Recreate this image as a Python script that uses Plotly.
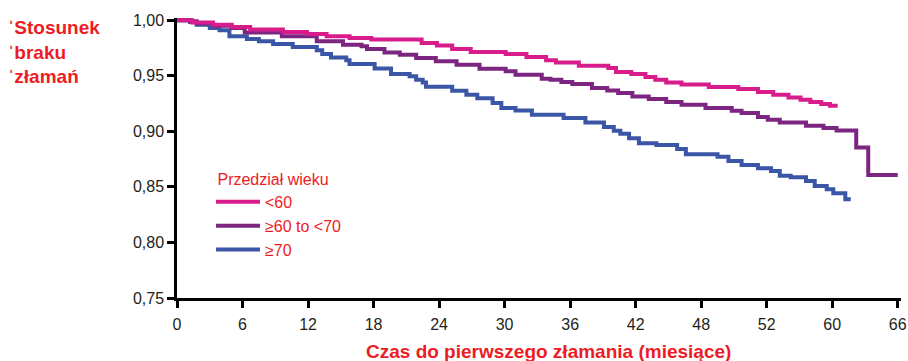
import plotly.graph_objects as go

# ---- data ----
months_lt60 = [0, 1.4, 3.3, 5.0, 6.7, 9.7, 11.9, 13.7, 15.8, 17.8, 22.4, 23.8, 25.2, 26.9, 30.1, 32.0,
               33.8, 34.7, 36.8, 39.5, 40.2, 41.6, 42.9, 43.8, 44.8, 46.2, 48.7, 51.4, 53.2, 54.6,
               56.0, 57.1, 58.0, 59.0, 59.8, 60.5]
surv_lt60 = [1.000, 0.998, 0.996, 0.994, 0.9916, 0.9895, 0.9877, 0.9856, 0.984, 0.9826, 0.9796, 0.9772,
             0.9742, 0.9715, 0.9697, 0.967, 0.9639, 0.962, 0.959, 0.957, 0.9534, 0.9516, 0.949, 0.9465,
             0.944, 0.9422, 0.940, 0.938, 0.9354, 0.933, 0.9305, 0.9284, 0.9263, 0.9245, 0.923, 0.923]

months_60_70 = [0, 1.2, 1.8, 3.3, 5.0, 6.2, 9.6, 12.8, 15.2, 16.9, 17.4, 19.0, 20.4, 21.9, 23.7, 25.6,
                27.7, 30.1, 31.0, 33.4, 34.2, 35.2, 36.2, 38.0, 39.4, 40.4, 41.7, 43.2, 44.8, 46.2,
                48.4, 50.8, 51.7, 53.2, 54.1, 55.2, 57.6, 59.2, 60.4, 62.2, 63.3, 66.0]
surv_60_70 = [1.000, 0.999, 0.997, 0.995, 0.993, 0.989, 0.9856, 0.981, 0.978, 0.9765, 0.9742, 0.971,
              0.969, 0.966, 0.963, 0.960, 0.9564, 0.954, 0.951, 0.9474, 0.9465, 0.9444, 0.9426, 0.939,
              0.9368, 0.9345, 0.9314, 0.929, 0.9263, 0.9239, 0.921, 0.9185, 0.9164, 0.9128, 0.9104,
              0.908, 0.905, 0.903, 0.9007, 0.8854, 0.8607, 0.8607]

months_ge70 = [0, 1.2, 1.8, 3.0, 3.9, 4.8, 6.4, 7.5, 8.8, 10.6, 12.8, 13.3, 14.1, 15.5, 15.8, 18.1,
               19.6, 21.3, 21.9, 22.5, 22.8, 25.2, 26.5, 27.5, 28.9, 29.7, 31.0, 32.5, 35.4, 37.4,
               39.1, 40.0, 40.6, 41.4, 42.3, 43.9, 45.8, 46.6, 49.5, 50.5, 51.7, 53.2, 54.4, 55.2,
               56.2, 57.6, 58.4, 59.5, 60.1, 61.2, 61.7]
surv_ge70 = [1.000, 0.9985, 0.996, 0.993, 0.991, 0.9856, 0.983, 0.981, 0.9785, 0.976, 0.973, 0.9695,
             0.9665, 0.964, 0.9606, 0.9565, 0.9515, 0.9495, 0.9465, 0.944, 0.9402, 0.9365, 0.933,
             0.9297, 0.9255, 0.921, 0.9187, 0.9149, 0.9119, 0.908, 0.9038, 0.9005, 0.8978, 0.8938,
             0.8893, 0.8878, 0.884, 0.8794, 0.8772, 0.8734, 0.8698, 0.8668, 0.8643, 0.8601, 0.8587,
             0.8553, 0.8508, 0.8478, 0.8442, 0.8388, 0.8388]

series_names = ["<60", "\u226560 to <70", "\u226570"]
x_tickvals = [0, 6, 12, 18, 24, 30, 36, 42, 48, 54, 60, 66]
x_ticktext = ["0", "6", "12", "18", "24", "30", "36", "42", "48", "52", "60", "66"]
y_tickvals = [0.75, 0.80, 0.85, 0.90, 0.95, 1.00]
y_ticktext = ["0,75", "0,80", "0,85", "0,90", "0,95", "1,00"]

# ---- style ----
PINK = "#d81c8c"
PURPLE = "#7c2682"
BLUE = "#3b56a6"
RED = "#ed1c24"
TXT = "#231f20"
FONT = "Liberation Sans, Arial, sans-serif"
NARROW = "Liberation Sans Narrow, Liberation Sans, Arial, sans-serif"

fig = go.Figure()
for x, y, name, col in [(months_ge70, surv_ge70, series_names[2], BLUE),
                        (months_60_70, surv_60_70, series_names[1], PURPLE),
                        (months_lt60, surv_lt60, series_names[0], PINK)]:
    fig.add_trace(go.Scatter(x=x, y=y, mode="lines", name=name,
                             line=dict(color=col, width=4, shape="hv")))

fig.update_layout(
    width=908, height=361,
    margin=dict(l=177, r=7, t=18, b=63),
    plot_bgcolor="white", paper_bgcolor="white",
    showlegend=True,
    legend=dict(x=0.047, y=0.478, xanchor="left", yanchor="top",
                bgcolor="rgba(0,0,0,0)", traceorder="reversed", itemwidth=44,
                font=dict(family=FONT, size=16, color=RED),
                title=dict(text=" Przedzia\u0142 wieku", font=dict(family=FONT, size=16, color=RED))),
    xaxis=dict(range=[0, 66.3], tickvals=x_tickvals, ticktext=x_ticktext,
               showline=True, linecolor="black", linewidth=2.5, mirror=False,
               ticks="outside", ticklen=7, tickwidth=2.5, tickcolor="black",
               showgrid=False, zeroline=False, ticklabeloverflow="allow",
               ticklabelstandoff=3, automargin=False,
               tickfont=dict(family=NARROW, size=16, color=TXT)),
    yaxis=dict(range=[0.75, 1.002], tickvals=y_tickvals, ticktext=y_ticktext,
               showline=True, linecolor="black", linewidth=2.5,
               ticks="outside", ticklen=7, tickwidth=2.5, tickcolor="black",
               showgrid=False, zeroline=False, automargin=False,
               tickfont=dict(family=FONT, size=16, color=TXT)),
)

fig.add_annotation(xref="paper", yref="paper", x=-0.2355, y=1.01, xanchor="left", yanchor="top",
                   align="left", showarrow=False,
                   text="<b>\u02c8Stosunek<br>\u02c8braku<br>\u02c8z\u0142ama\u0144</b>",
                   font=dict(family=FONT, size=19, color=RED))
fig.add_annotation(xref="paper", yref="paper", x=0.513, y=-0.19, xanchor="center", yanchor="middle",
                   showarrow=False,
                   text="<b>Czas do pierwszego z\u0142amania (miesi\u0105ce)</b>",
                   font=dict(family=FONT, size=19, color=RED))

fig.write_html("out.html", config={"displayModeBar": False},
               post_script="document.body.style.margin='0';document.body.style.overflow='hidden';")
